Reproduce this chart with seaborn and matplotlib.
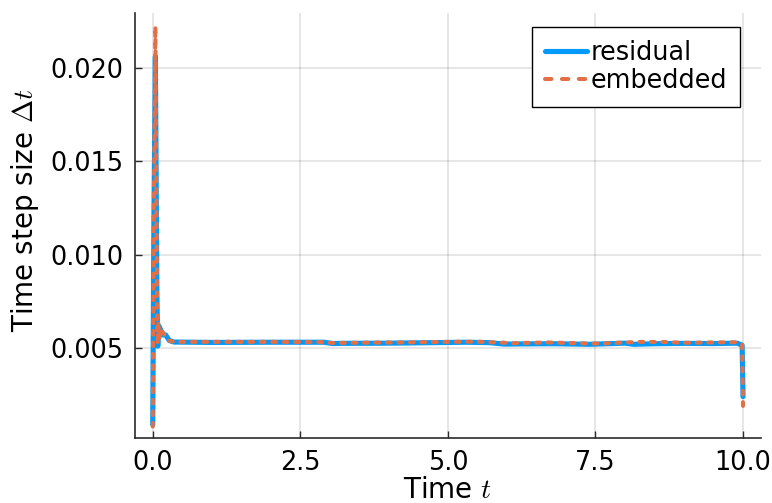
import matplotlib
matplotlib.use("Agg")
import matplotlib.pyplot as plt
import numpy as np
import pandas as pd
import seaborn as sns

# Accepted step sizes of two step-size controllers over the simulation time
residual_t = [0.0, 0.02, 0.045, 0.07, 0.085, 0.10, 0.13, 0.17, 0.22, 0.28, 0.36,
              1.0, 2.0, 2.9, 3.05, 3.2, 4.0, 4.8, 5.3, 5.7, 5.95, 6.2, 6.8,
              7.4, 7.8, 8.0, 8.15, 8.5, 9.0, 9.5, 9.9, 9.985, 10.0]
residual_dt = [0.0009, 0.0120, 0.0206, 0.0080, 0.0051, 0.0062, 0.0060, 0.0057, 0.0057, 0.0054, 0.00532,
               0.00530, 0.00531, 0.00531, 0.00524, 0.00525, 0.00526, 0.00529, 0.00531, 0.00529, 0.00521, 0.00522, 0.00523,
               0.00520, 0.00524, 0.00526, 0.00520, 0.00523, 0.00525, 0.00524, 0.00526, 0.00515, 0.00240]

embedded_t = [0.0, 0.02, 0.045, 0.075, 0.085, 0.095, 0.11, 0.14, 0.20, 0.27, 0.36,
              1.0, 2.0, 2.9, 3.05, 3.3, 4.2, 5.0, 5.5, 5.9, 6.1, 6.7, 7.3,
              7.6, 8.0, 8.3, 8.7, 9.0, 9.5, 9.9, 9.985, 10.0]
embedded_dt = [0.0008, 0.0130, 0.0222, 0.0060, 0.0052, 0.0064, 0.0055, 0.0060, 0.0057, 0.0054, 0.00533,
               0.00533, 0.00533, 0.00532, 0.00527, 0.00528, 0.00530, 0.00533, 0.00534, 0.00529, 0.00526, 0.00530, 0.00525,
               0.00524, 0.00530, 0.00533, 0.00532, 0.00528, 0.00530, 0.00531, 0.00518, 0.00190]

series_names = ["residual", "embedded"]
series_colors = ["#009AFA", "#E36F47"]

x_ticks = [0.0, 2.5, 5.0, 7.5, 10.0]
x_tick_labels = ["0.0", "2.5", "5.0", "7.5", "10.0"]
y_ticks = [0.005, 0.010, 0.015, 0.020]
y_tick_labels = ["0.005", "0.010", "0.015", "0.020"]

df = pd.concat([
    pd.DataFrame({"t": residual_t, "dt": residual_dt, "controller": series_names[0]}),
    pd.DataFrame({"t": embedded_t, "dt": embedded_dt, "controller": series_names[1]}),
], ignore_index=True)

sns.set_theme(style="white")
plt.rcParams["font.family"] = ["DejaVu Sans"]
plt.rcParams["mathtext.fontset"] = "cm"
plt.rcParams["text.color"] = "black"
plt.rcParams["axes.labelcolor"] = "black"

LINE_DASH = (0, (0.95, 1.9))
LEGEND_DASH = (0, (1.6, 2.6))

fig = plt.figure(figsize=(7.72, 5.03), dpi=100)
ax = fig.add_axes([0.1749, 0.1286, 0.8105, 0.845])

sns.lineplot(data=df[df.controller == "residual"], x="t", y="dt", ax=ax,
             color=series_colors[0], linewidth=3.7, label="residual",
             estimator=None, sort=False, solid_capstyle="round",
             solid_joinstyle="round")
sns.lineplot(data=df[df.controller == "embedded"], x="t", y="dt", ax=ax,
             color=series_colors[1], linewidth=2.9, label="embedded",
             estimator=None, sort=False, dashes=False)
orange_line = ax.get_lines()[-1]
orange_line.set_linestyle(LINE_DASH)
orange_line.set_dash_capstyle("round")

ax.set_xlim(-0.30, 10.30)
ax.set_ylim(0.00017, 0.02291)
ax.set_xticks(x_ticks)
ax.set_xticklabels(x_tick_labels)
ax.set_yticks(y_ticks)
ax.set_yticklabels(y_tick_labels)

ax.grid(True, color="#000000", alpha=0.1, linewidth=1.4)
for side in ["top", "right"]:
    ax.spines[side].set_visible(False)
for side in ["left", "bottom"]:
    ax.spines[side].set_color("#2a2a2a")
    ax.spines[side].set_linewidth(1.2)
ax.tick_params(axis="both", direction="in", length=5, width=1.0,
               colors="#2a2a2a", labelcolor="black", labelsize=18.4,
               left=True, bottom=True, pad=8.5)

ax.set_xlabel("Time $t$", fontsize=20, labelpad=0)
ax.set_ylabel("Time step size $\\Delta t$", fontsize=20)
ax.yaxis.set_label_coords(-0.150, 0.536)

leg = ax.legend(loc="upper right", bbox_to_anchor=(0.967, 0.967),
                fontsize=18.4, frameon=True, fancybox=False,
                handlelength=1.63, handletextpad=0.15, borderpad=0.5,
                labelspacing=0.08, borderaxespad=0.0)
leg.get_frame().set_edgecolor("black")
leg.get_frame().set_linewidth(1.0)
leg.get_frame().set_alpha(1.0)
leg.get_lines()[1].set_linestyle(LEGEND_DASH)
leg.get_lines()[1].set_dash_capstyle("round")

fig.savefig("out.png", dpi=100)
